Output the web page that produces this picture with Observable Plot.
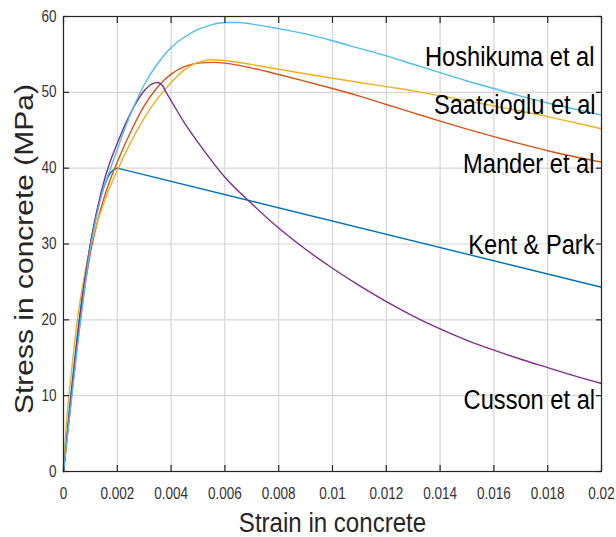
<!DOCTYPE html>
<html>
<head>
<meta charset="utf-8">
<script src="https://cdn.jsdelivr.net/npm/d3@7"></script>
<script src="https://cdn.jsdelivr.net/npm/@observablehq/plot@0.6"></script>
<style>
  html, body { margin: 0; padding: 0; background: #ffffff; }
  #chart svg { display: block; }
</style>
</head>
<body>
<div id="chart"></div>
<script>
// ---- Axis ticks ----
const xTicks = [0, 0.002, 0.004, 0.006, 0.008, 0.01, 0.012, 0.014, 0.016, 0.018, 0.02];
const xTickLabels = ["0", "0.002", "0.004", "0.006", "0.008", "0.01", "0.012", "0.014", "0.016", "0.018", "0.02"];
const yTicks = [0, 10, 20, 30, 40, 50, 60];

// ---- Kent & Park ----
const kentAscStrain = [0, 0.00025, 0.0005, 0.00075, 0.001, 0.00125, 0.0015, 0.00175, 0.002];
const kentAscStress = [0, 9.4, 17.5, 24.4, 30.0, 34.4, 37.5, 39.4, 40.0];
const kentDescStrain = [0.002, 0.02];
const kentDescStress = [40.0, 24.3];

// ---- Mander et al ----
const manderStrain = [0, 0.00025, 0.0005, 0.00075, 0.001, 0.00125, 0.0015, 0.00175, 0.002, 0.0025, 0.003, 0.0035, 0.004, 0.0045, 0.005, 0.0056, 0.006, 0.007, 0.008, 0.009, 0.01, 0.011, 0.012, 0.013, 0.014, 0.015, 0.016, 0.017, 0.018, 0.019, 0.02];
const manderStress = [0, 8.3, 16.2, 23.2, 28.8, 32.8, 36.0, 38.6, 40.8, 44.8, 48.2, 50.7, 52.4, 53.4, 53.85, 53.95, 53.85, 53.2, 52.35, 51.45, 50.5, 49.5, 48.4, 47.3, 46.2, 45.15, 44.15, 43.2, 42.3, 41.5, 40.8];

// ---- Hoshikuma et al ----
const hoshiStrain = [0, 0.00025, 0.0005, 0.00075, 0.001, 0.00125, 0.0015, 0.00175, 0.002, 0.0025, 0.003, 0.0035, 0.004, 0.0045, 0.005, 0.0055, 0.006, 0.0065, 0.007, 0.008, 0.009, 0.01, 0.011, 0.012, 0.013, 0.014, 0.015, 0.016, 0.017, 0.018, 0.019, 0.02];
const hoshiStress = [0, 8.0, 16.0, 23.2, 29.5, 34.0, 37.5, 40.0, 42.5, 47.2, 51.0, 53.8, 55.9, 57.3, 58.3, 58.9, 59.2, 59.2, 59.0, 58.4, 57.7, 56.8, 55.8, 54.8, 53.7, 52.6, 51.5, 50.5, 49.5, 48.6, 47.8, 47.0];

// ---- Cusson et al ----
const cussonStrain = [0, 0.00025, 0.0005, 0.00075, 0.001, 0.00125, 0.0015, 0.00175, 0.002, 0.0025, 0.003, 0.0032, 0.0034, 0.0035, 0.0036, 0.0037, 0.0038, 0.004, 0.0046, 0.005, 0.006, 0.007, 0.008, 0.009, 0.01, 0.011, 0.012, 0.013, 0.014, 0.015, 0.016, 0.017, 0.018, 0.019, 0.02];
const cussonStress = [0, 8.6, 17.0, 24.2, 30.0, 34.5, 38.2, 41.0, 43.3, 47.3, 50.2, 50.9, 51.25, 51.3, 51.15, 50.8, 50.1, 48.9, 45.4, 43.4, 38.8, 35.3, 32.1, 29.3, 26.8, 24.5, 22.4, 20.5, 18.8, 17.3, 16.0, 14.8, 13.7, 12.6, 11.6];

// ---- Saatcioglu et al ----
const saatStrain = [0, 0.0001, 0.0002, 0.0003, 0.0005, 0.00075, 0.001, 0.0015, 0.002, 0.0025, 0.003, 0.0035, 0.004, 0.0045, 0.005, 0.0055, 0.006, 0.007, 0.008, 0.009, 0.01, 0.011, 0.012, 0.013, 0.014, 0.015, 0.016, 0.017, 0.018, 0.019, 0.02];
const saatStress = [0, 6.0, 10.0, 13.3, 19.6, 25.3, 29.6, 35.4, 39.7, 43.4, 46.6, 49.2, 51.3, 53.0, 53.95, 54.3, 54.2, 53.65, 53.05, 52.45, 51.85, 51.3, 50.75, 50.2, 49.55, 48.9, 48.2, 47.5, 46.8, 46.0, 45.2];

// ---- Curve labels ----
const labelNames = ["Hoshikuma et al", "Saatcioglu et al", "Mander et al", "Kent & Park", "Cusson et al"];
const labelStrain = [0.01974, 0.01978, 0.01974, 0.01974, 0.01976];
const labelStress = [53.5, 47.2, 39.3, 28.7, 8.3];

const xTitle = "Strain in concrete";
const yTitle = "Stress in concrete (MPa)";

// ---- Styles ----
const colors = {
  kent: "#0072BD",
  mander: "#D95319",
  saat: "#EDB120",
  cusson: "#7E2F8E",
  hoshi: "#4DBEEE"
};
const font = "'Liberation Sans', Arial, Helvetica, sans-serif";
const squeeze = 0.845; // the reference lettering is horizontally condensed
const axisColor = "#262626";

const toRows = (xs, ys) => xs.map((x, i) => ({x, y: ys[i]}));
const labelRows = labelNames.map((name, i) => ({name, x: labelStrain[i], y: labelStress[i]}));

const lineOpts = (color, curve) => ({x: "x", y: "y", stroke: color, strokeWidth: 1.4, curve});
const blank = () => "";

const chart = Plot.plot({
  width: 616,
  height: 537,
  marginLeft: 63,
  marginRight: 15,
  marginTop: 16,
  marginBottom: 66,
  x: {domain: [0, 0.02]},
  y: {domain: [0, 60]},
  style: {fontFamily: font, fontSize: "16px", color: axisColor, background: "#ffffff", overflow: "visible"},
  marks: [
    Plot.gridX(xTicks, {stroke: "#d6d6d6", strokeOpacity: 1, strokeWidth: 1.2}),
    Plot.gridY(yTicks, {stroke: "#d6d6d6", strokeOpacity: 1, strokeWidth: 1.2}),
    Plot.line(toRows(kentAscStrain, kentAscStress), lineOpts(colors.kent, "monotone-x")),
    Plot.line(toRows(kentDescStrain, kentDescStress), lineOpts(colors.kent, "linear")),
    Plot.line(toRows(manderStrain, manderStress), lineOpts(colors.mander, "monotone-x")),
    Plot.line(toRows(saatStrain, saatStress), lineOpts(colors.saat, "monotone-x")),
    Plot.line(toRows(cussonStrain, cussonStress), lineOpts(colors.cusson, "monotone-x")),
    Plot.line(toRows(hoshiStrain, hoshiStress), lineOpts(colors.hoshi, "monotone-x")),
    Plot.frame({stroke: axisColor, strokeWidth: 1.2}),
    // inward tick marks on all four sides
    Plot.axisX(xTicks, {anchor: "bottom", tickSize: 6, dy: -6, tickFormat: blank, label: null, stroke: axisColor, strokeWidth: 1.2}),
    Plot.axisX(xTicks, {anchor: "top", tickSize: 6, dy: 6, tickFormat: blank, label: null, stroke: axisColor, strokeWidth: 1.2}),
    Plot.axisY(yTicks, {anchor: "left", tickSize: 6, dx: 6, tickFormat: blank, label: null, stroke: axisColor, strokeWidth: 1.2}),
    Plot.axisY(yTicks, {anchor: "right", tickSize: 6, dx: -6, tickFormat: blank, label: null, stroke: axisColor, strokeWidth: 1.2}),
    // tick labels
    Plot.axisX(xTicks, {anchor: "bottom", tickSize: 0, tickPadding: 16, label: null,
      tickFormat: d => xTickLabels[xTicks.indexOf(d)], fontSize: 16, fill: "#333333"}),
    Plot.axisY(yTicks, {anchor: "left", tickSize: 0, tickPadding: 7, label: null,
      tickFormat: d => String(d), fontSize: 16, fill: "#333333"}),
    // axis titles
    Plot.text([xTitle], {text: d => d, frameAnchor: "bottom", dy: 60, lineAnchor: "bottom",
      textAnchor: "middle", fontSize: 28.5, fill: axisColor}),
    Plot.text([yTitle], {text: d => d, frameAnchor: "left", dx: -31, dy: 5, rotate: -90,
      textAnchor: "middle", lineAnchor: "bottom", fontSize: 30, fill: axisColor}),
    // curve labels
    Plot.text(labelRows, {x: "x", y: "y", text: "name", textAnchor: "end", lineAnchor: "bottom",
      fontSize: 28, fill: "#000000"})
  ]
});

document.getElementById("chart").appendChild(chart);

// Condense lettering horizontally (about each text's own anchor point).
d3.select(chart).selectAll("text").each(function () {
  const t = this.getAttribute("transform");
  if (t) {
    this.setAttribute("transform", t.includes("rotate") ? `${t} scale(1,${squeeze})` : `${t} scale(${squeeze},1)`);
  } else {
    const len = this.getComputedTextLength();
    if (len > 0) {
      this.setAttribute("textLength", (len * squeeze).toFixed(2));
      this.setAttribute("lengthAdjust", "spacingAndGlyphs");
    }
  }
});
</script>
</body>
</html>
